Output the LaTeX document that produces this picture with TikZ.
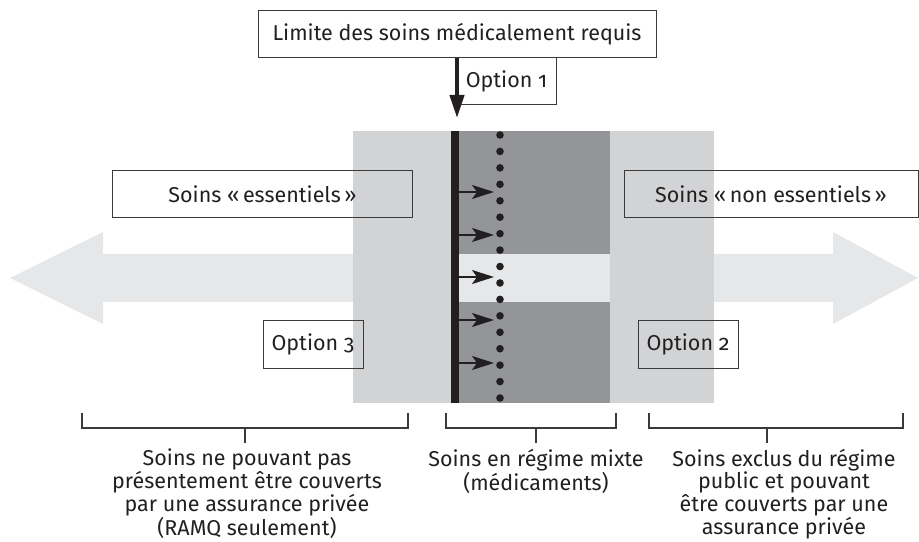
\documentclass[tikz,border=0pt]{standalone}
\usepackage{fontspec}
\setmainfont{Fira Sans}[Numbers=OldStyle]
\usetikzlibrary{arrows.meta}
\definecolor{ink}{HTML}{231F20}
\definecolor{lightg}{HTML}{D1D3D4}
\definecolor{darkg}{HTML}{939598}
\definecolor{arrowg}{HTML}{E6E7E8}
\definecolor{edge}{HTML}{3A3A3A}
\tikzset{
  box/.style={draw=edge, line width=1bp, inner sep=0pt, minimum height=47bp},
  bracketline/.style={draw=edge, line width=1.2bp},
  smallarrow/.style={draw=ink, line width=1.8bp, -{Stealth[length=22bp,width=14bp,inset=5bp]}},
  bigdown/.style={draw=ink, line width=4bp, -{Triangle[length=23bp,width=14bp]}},
  label/.style={align=center, inner sep=0pt, anchor=north},
}
\begin{document}
\begin{tikzpicture}[x=1bp,y=-1bp, font=\fontsize{21.5bp}{20.6bp}\selectfont, text=ink]
\useasboundingbox (0,0) rectangle (919,542);
% big double arrow
\fill[arrowg] (10,278) -- (103,232) -- (103,254) -- (833,254) -- (833,232) -- (918,278)
  -- (833,324) -- (833,302) -- (103,302) -- (103,324) -- cycle;
% central zone
\fill[lightg] (353,131) rectangle (714,403);
\fill[darkg] (459,131) rectangle (610,254);
\fill[darkg] (459,302) rectangle (610,403);
\fill[arrowg] (459,254) rectangle (610,302);
\fill[ink] (451,131) rectangle (459,403);
\foreach \i in {0,...,16} \fill[ink] (500,135+\i*16.44) circle[radius=3.8bp];
\foreach \yy in {192,235,277,320,363} {
  \coordinate (sa\yy) at (459,\yy);
  \coordinate (sb\yy) at (494,\yy);
  \draw[smallarrow] (sa\yy) -- (sb\yy);
}
% boxes
\node[box, minimum width=398bp] (lim) at (457,34.5) {Limite des soins médicalement requis};
\node[box, minimum width=99bp] (opt1) at (506.5,81.5) {Option 1};
\coordinate (tip1) at (457,118);
\draw[bigdown] (lim.south) -- (tip1);
\node[box, minimum width=299bp] (ess) at (262.5,194.5) {Soins «\,essentiels\,»};
\node[box, minimum width=294bp] (ness) at (771,194.5) {Soins «\,non essentiels\,»};
\node[box, minimum width=100bp] (opt3) at (313,344.5) {Option 3};
\node[box, minimum width=100bp] (opt2) at (688,344.5) {Option 2};
% brackets
\draw[bracketline] (82,413) -- (82,428) -- (408,428) -- (408,413);
\draw[bracketline] (446,413) -- (446,428) -- (616,428) -- (616,413);
\draw[bracketline] (649,413) -- (649,428) -- (903,428) -- (903,413);
\coordinate (s1a) at (245,428); \coordinate (s1b) at (245,443);
\coordinate (s2a) at (536,428); \coordinate (s2b) at (536,443);
\coordinate (s3a) at (767,428); \coordinate (s3b) at (767,443);
\draw[bracketline] (s1a) -- (s1b);
\draw[bracketline] (s2a) -- (s2b);
\draw[bracketline] (s3a) -- (s3b);
% texts
\begin{scope}[font=\fontsize{21.5bp}{20bp}\selectfont]
\node[label] (t1) at (247,449) {Soins ne pouvant pas\\présentement être couverts\\par une assurance privée\\(RAMQ seulement)};
\node[label] (t2) at (536,449) {Soins en régime mixte\\(médicaments)};
\node[label] (t3) at (784,449) {Soins exclus du régime\\public et pouvant\\être couverts par une\\assurance privée};
\end{scope}
\end{tikzpicture}
\end{document}
